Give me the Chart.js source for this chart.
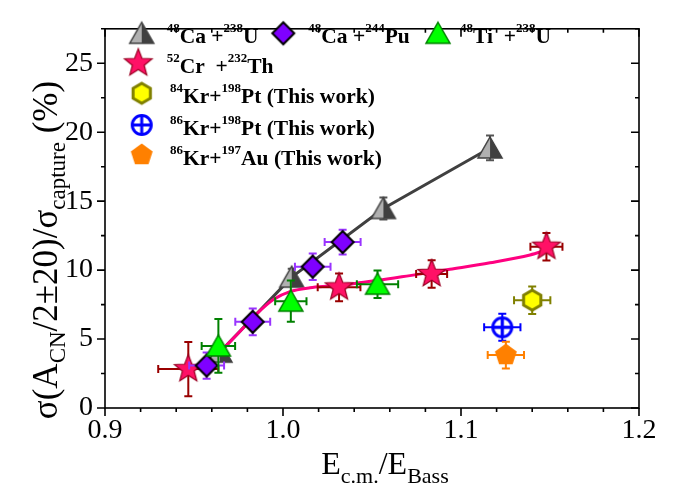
<!DOCTYPE html>
<html>
<head>
<meta charset="utf-8">
<script src="https://cdn.jsdelivr.net/npm/chart.js@4.4.1/dist/chart.umd.min.js"></script>
<style>
  html, body { margin: 0; padding: 0; background: #fff; }
</style>
</head>
<body>
<canvas id="chart" width="673" height="499"></canvas>
<script>
// tick labels
const X_TICKS = [0.9, 1.0, 1.1, 1.2];
const Y_TICKS = [0, 5, 10, 15, 20, 25];

// 48Ca + 238U
const caU_x  = [0.9646, 1.0049, 1.0564, 1.1163];
const caU_y  = [4.05, 9.49, 14.47, 18.86];
const caU_ye = [0.5, 0.6, 0.8, 0.9];

// 48Ca + 244Pu
const caPu_x  = [0.9571, 0.9830, 1.0167, 1.0335];
const caPu_y  = [3.08, 6.25, 10.25, 12.03];
const caPu_xe = [0.0098, 0.0098, 0.0100, 0.0101];
const caPu_ye = [0.95, 0.97, 0.96, 0.90];

// 48Ti + 238U
const tiU_x  = [0.9637, 1.0044, 1.0531];
const tiU_y  = [4.50, 7.75, 8.98];
const tiU_xe = [0.0094, 0.0088, 0.0116];
const tiU_ye = [1.95, 1.50, 1.00];

// 52Cr + 232Th
const crTh_x  = [0.9468, 1.0315, 1.0835, 1.1480];
const crTh_y  = [2.82, 8.75, 9.72, 11.7];
const crTh_xe = [0.0169, 0.0120, 0.0087, 0.0090];
const crTh_ye = [1.97, 1.00, 1.00, 1.00];

// 52Cr + 232Th trend curve
const crFit_x = [0.9655, 0.9758, 0.9852, 0.9946, 1.0039, 1.0152, 1.0264, 1.0404, 1.0713, 1.0938, 1.1163, 1.1388, 1.1480];
const crFit_y = [4.17, 5.55, 6.83, 7.87, 8.44, 8.72, 8.85, 9.03, 9.60, 10.06, 10.53, 11.10, 11.45];

// This work
const kr84Pt_x = [1.1400], kr84Pt_y = [7.82], kr84Pt_xe = [0.0102], kr84Pt_ye = [1.00];
const kr86Pt_x = [1.1232], kr86Pt_y = [5.85], kr86Pt_xe = [0.0102], kr86Pt_ye = [0.98];
const kr86Au_x = [1.1252], kr86Au_y = [3.84], kr86Au_xe = [0.0102], kr86Au_ye = [0.97];

const NAMES = {
    caU: '^{48}Ca +^{238}U',
    caPu: '^{48}Ca +^{244}Pu',
    tiU: '^{48}Ti  +^{238}U',
    crTh: '^{52}Cr  +^{232}Th',
    kr84Pt: '^{84}Kr+^{198}Pt (This work)',
    kr86Pt: '^{86}Kr+^{198}Pt (This work)',
    kr86Au: '^{86}Kr+^{197}Au (This work)'
};

const pts = (xs, ys) => xs.map((x, i) => ({ x: x, y: ys[i] }));

// marker images
function marker(size, draw) {
    const c = document.createElement('canvas');
    c.width = size; c.height = size;
    const g = c.getContext('2d');
    g.translate(size / 2, size / 2);
    draw(g);
    return c;
}
function poly(g, n, r, start) {
    g.beginPath();
    for (let i = 0; i < n; i++) {
        const a = start + i * 2 * Math.PI / n;
        g.lineTo(r * Math.cos(a), r * Math.sin(a));
    }
    g.closePath();
}
const starImg = marker(34, g => {
    g.beginPath();
    for (let i = 0; i < 10; i++) {
        const r = i % 2 ? 6.2 : 14.5;
        const a = -Math.PI / 2 + i * Math.PI / 5;
        g.lineTo(r * Math.cos(a), r * Math.sin(a));
    }
    g.closePath();
    g.fillStyle = '#ff1166'; g.fill();
    g.strokeStyle = '#990022'; g.lineWidth = 1.2; g.stroke();
});
const diamondImg = marker(28, g => {
    poly(g, 4, 11, -Math.PI / 2);
    g.fillStyle = '#7f00ff'; g.fill();
    g.strokeStyle = '#000'; g.lineWidth = 2; g.stroke();
});
const greenTriImg = marker(30, g => {
    g.beginPath(); g.moveTo(0, -11); g.lineTo(12, 10); g.lineTo(-12, 10); g.closePath();
    g.fillStyle = '#00ff00'; g.fill();
    g.strokeStyle = '#008000'; g.lineWidth = 1.5; g.stroke();
});
const grayTriImg = marker(30, g => {
    g.beginPath(); g.moveTo(0, -11); g.lineTo(0, 10); g.lineTo(-12, 10); g.closePath();
    g.fillStyle = '#b0b0b0'; g.fill();
    g.beginPath(); g.moveTo(0, -11); g.lineTo(12, 10); g.lineTo(0, 10); g.closePath();
    g.fillStyle = '#404040'; g.fill();
    g.beginPath(); g.moveTo(0, -11); g.lineTo(12, 10); g.lineTo(-12, 10); g.closePath();
    g.strokeStyle = '#404040'; g.lineWidth = 1.5; g.stroke();
});
const hexImg = marker(28, g => {
    poly(g, 6, 10, -Math.PI / 2);
    g.fillStyle = '#ffff00'; g.fill();
    g.strokeStyle = '#808000'; g.lineWidth = 3; g.stroke();
});
const circPlusImg = marker(28, g => {
    g.strokeStyle = '#0000ff'; g.lineWidth = 3;
    g.beginPath(); g.arc(0, 0, 9.5, 0, 2 * Math.PI); g.stroke();
    g.beginPath(); g.moveTo(-9.5, 0); g.lineTo(9.5, 0); g.moveTo(0, -9.5); g.lineTo(0, 9.5); g.stroke();
});
const pentImg = marker(28, g => {
    poly(g, 5, 11.5, -Math.PI / 2);
    g.fillStyle = '#ff8000'; g.fill();
});

// error bars, drawn just under each dataset's markers
const errorBars = {
    id: 'errorBars',
    beforeDatasetDraw(chart, args) {
        const ds = chart.data.datasets[args.index];
        if (!ds.xErr && !ds.yErr) return;
        const xs = chart.scales.x, ys = chart.scales.y, ctx = chart.ctx;
        const cap = 4;
        ctx.save();
        ctx.strokeStyle = ds.errColor;
        ctx.lineWidth = 2;
        ds.data.forEach((p, i) => {
            const px = xs.getPixelForValue(p.x), py = ys.getPixelForValue(p.y);
            ctx.beginPath();
            const ex = ds.xErr ? ds.xErr[i] : 0, ey = ds.yErr ? ds.yErr[i] : 0;
            if (ex) {
                const l = xs.getPixelForValue(p.x - ex), r = xs.getPixelForValue(p.x + ex);
                ctx.moveTo(l, py); ctx.lineTo(r, py);
                ctx.moveTo(l, py - cap); ctx.lineTo(l, py + cap);
                ctx.moveTo(r, py - cap); ctx.lineTo(r, py + cap);
            }
            if (ey) {
                const t = ys.getPixelForValue(p.y + ey), b = ys.getPixelForValue(p.y - ey);
                ctx.moveTo(px, t); ctx.lineTo(px, b);
                ctx.moveTo(px - cap, t); ctx.lineTo(px + cap, t);
                ctx.moveTo(px - cap, b); ctx.lineTo(px + cap, b);
            }
            ctx.stroke();
        });
        ctx.restore();
    }
};

// text with ^{sup} and _{sub}
function drawRich(ctx, str, x, y, o) {
    const parts = [];
    str.replace(/(\^|_)\{([^}]*)\}|([^^_]+)/g, (m, t, inner, plain) => {
        parts.push(t ? { t: t, s: inner } : { t: '', s: plain });
    });
    const fontOf = p => (o.weight || 'normal') + ' ' + (p.t ? o.small : o.size) + 'px ' + o.family;
    let w = 0;
    parts.forEach(p => { ctx.font = fontOf(p); p.w = ctx.measureText(p.s).width; w += p.w; });
    let cx = o.align === 'center' ? x - w / 2 : x;
    ctx.textAlign = 'left';
    ctx.textBaseline = 'alphabetic';
    ctx.fillStyle = '#000';
    parts.forEach(p => {
        ctx.font = fontOf(p);
        const dy = p.t === '^' ? o.supDy : p.t === '_' ? o.subDy : 0;
        ctx.fillText(p.s, cx, y + dy);
        cx += p.w;
    });
}

// frame, ticks, axis titles, legend
const decor = {
    id: 'decor',
    afterDraw(chart) {
        const ctx = chart.ctx, xs = chart.scales.x, ys = chart.scales.y;
        const a = chart.chartArea;
        ctx.save();
        ctx.strokeStyle = '#000';
        ctx.lineWidth = 1.6;
        ctx.strokeRect(a.left, a.top, a.right - a.left, a.bottom - a.top);
        ctx.beginPath();
        for (let v = 0.9; v <= 1.2001; v += 0.02) {
            const px = xs.getPixelForValue(v);
            const major = Math.abs(v * 10 - Math.round(v * 10)) < 1e-6;
            const len = major ? 8 : 4;
            ctx.moveTo(px, a.bottom); ctx.lineTo(px, a.bottom + len);
            ctx.moveTo(px, a.top); ctx.lineTo(px, a.top + len);
        }
        for (let v = 0; v <= 27.5; v += 2.5) {
            const py = ys.getPixelForValue(v);
            const major = v % 5 === 0;
            const len = major ? 8 : 4;
            ctx.moveTo(a.left, py); ctx.lineTo(a.left - len, py);
            ctx.moveTo(a.right, py); ctx.lineTo(a.right - len, py);
        }
        ctx.stroke();

        // axis titles
        drawRich(ctx, 'E_{c.m.}/E_{Bass}', 385, 474, { size: 32, small: 22, family: '"Liberation Serif"', subDy: 9, align: 'center' });
        ctx.save();
        ctx.translate(57, 250);
        ctx.rotate(-Math.PI / 2);
        drawRich(ctx, 'σ(A_{CN}/2±20)/σ_{capture} (%)', 0, 0, { size: 35, small: 23, family: '"Liberation Serif"', subDy: 8, align: 'center' });
        ctx.restore();

        // legend
        const legend = [
            [grayTriImg, 141.7, 33.3, NAMES.caU, 166.7],
            [diamondImg, 283.3, 33.3, NAMES.caPu, 308.3],
            [greenTriImg, 438, 33.3, NAMES.tiU, 460],
            [starImg, 138.3, 63.3, NAMES.crTh, 166.7],
            [hexImg, 141.7, 93.3, NAMES.kr84Pt, 170],
            [circPlusImg, 141.7, 125, NAMES.kr86Pt, 170],
            [pentImg, 141.7, 155, NAMES.kr86Au, 170]
        ];
        legend.forEach(([img, mx, my, label, tx]) => {
            ctx.drawImage(img, mx - img.width / 2, my - img.height / 2);
            drawRich(ctx, label, tx, my + 10, { size: 21.5, small: 13, weight: 'bold', family: '"Liberation Serif"', supDy: -11 });
        });
        ctx.restore();
    }
};

const ctx = document.getElementById('chart').getContext('2d');
const chart = new Chart(ctx, {
    type: 'scatter',
    data: {
        datasets: [
            { data: pts(kr86Au_x, kr86Au_y), pointStyle: pentImg, xErr: kr86Au_xe, yErr: kr86Au_ye, errColor: '#ff8000' },
            { data: pts(kr86Pt_x, kr86Pt_y), pointStyle: circPlusImg, xErr: kr86Pt_xe, yErr: kr86Pt_ye, errColor: '#0000ff' },
            { data: pts(kr84Pt_x, kr84Pt_y), pointStyle: hexImg, xErr: kr84Pt_xe, yErr: kr84Pt_ye, errColor: '#808000' },
            { data: pts(tiU_x, tiU_y), pointStyle: greenTriImg, xErr: tiU_xe, yErr: tiU_ye, errColor: '#008000' },
            { data: pts(caPu_x, caPu_y), pointStyle: diamondImg, xErr: caPu_xe, yErr: caPu_ye, errColor: '#9933ff' },
            { data: pts(crTh_x, crTh_y), pointStyle: starImg, xErr: crTh_xe, yErr: crTh_ye, errColor: '#990000' },
            { data: pts(crFit_x, crFit_y), showLine: true, pointRadius: 0, borderColor: '#ff0080', borderWidth: 3,
              tension: 0.4, cubicInterpolationMode: 'monotone' },
            { data: pts(caU_x, caU_y), pointStyle: grayTriImg, showLine: true, borderColor: '#404040', borderWidth: 3,
              tension: 0, yErr: caU_ye, errColor: '#555555' }
        ]
    },
    options: {
        responsive: false,
        animation: false,
        devicePixelRatio: 1,
        layout: { padding: { top: 13, right: 34, left: 0, bottom: 0 } },
        plugins: { legend: { display: false }, tooltip: { enabled: false } },
        scales: {
            x: {
                type: 'linear', min: 0.9, max: 1.2,
                afterBuildTicks: s => { s.ticks = X_TICKS.map(v => ({ value: v })); },
                afterFit: s => { s.height = 91; },
                ticks: { callback: v => v.toFixed(1), font: { family: '"Liberation Serif"', size: 28 }, color: '#000', padding: 6, maxRotation: 0, autoSkip: false },
                grid: { display: false, drawTicks: false },
                border: { display: false }
            },
            y: {
                type: 'linear', min: 0, max: 27.5,
                afterBuildTicks: s => { s.ticks = Y_TICKS.map(v => ({ value: v })); },
                afterFit: s => { s.width = 105; },
                ticks: { font: { family: '"Liberation Serif"', size: 28 }, color: '#000', padding: 12, autoSkip: false },
                grid: { display: false, drawTicks: false },
                border: { display: false }
            }
        }
    },
    plugins: [errorBars, decor]
});
</script>
</body>
</html>
